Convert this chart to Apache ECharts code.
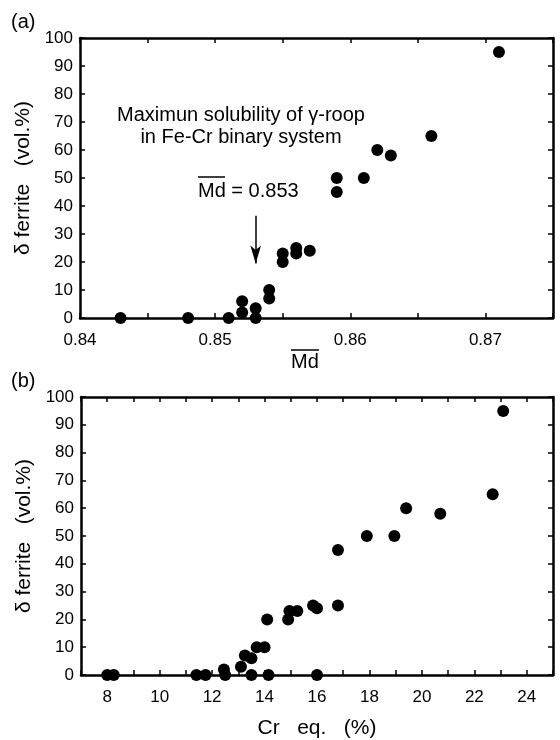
<!DOCTYPE html>
<html><head><meta charset="utf-8">
<script src="https://cdn.jsdelivr.net/npm/echarts@6/dist/echarts.min.js"></script>
<style>html,body{margin:0;padding:0;background:#fff}#c{width:560px;height:740px}</style>
</head><body><div id="c"></div>
<script>
// ---- data ----
const mdValues = [0.843,0.848,0.851,0.852,0.852,0.853,0.853,0.854,0.854,0.855,0.855,0.856,0.856,0.857,0.859,0.859,0.861,0.862,0.863,0.866,0.871];
const ferriteA = [0,0,0,6,2,3.5,0,10,7,23,20,25,23,24,45,50,50,60,58,65,95];
const crEq = [8.0,8.25,11.4,11.75,12.45,12.5,13.1,13.25,13.5,13.5,13.7,14.0,14.1,14.15,14.9,14.95,15.25,15.85,16.0,16.0,16.8,16.8,17.9,18.95,19.4,20.7,22.7,23.1];
const ferriteB = [0,0,0,0,2,0,3,7,6,0,10,10,20,0,20,23,23,25,24,0,25,45,50,50,60,58,65,95];
const mdTickLabels = ['0.84','0.85','0.86','0.87'];
const crTickLabels = ['8','10','12','14','16','18','20','22','24'];
const ferriteTickLabels = ['0','10','20','30','40','50','60','70','80','90','100'];
const mdCritical = 0.853;
const arrowFrom = 36.5, arrowTo = 19.5;

const FONT = 'Liberation Sans, Arial, sans-serif';
const chart = echarts.init(document.getElementById('c'));

function pairs(xs, ys){ return xs.map((x,i)=>[x, ys[i]]); }

function xAxisCfg(grid, min, max, interval, labels, pos, show){
  return {
    type:'value', gridIndex:grid, min:min, max:max, interval:interval, position:pos,
    axisLine:{show:true, onZero:false, lineStyle:{color:'#000', width:2.5}},
    axisTick:{show:true, inside:true, length:5, lineStyle:{color:'#000', width:1.5}},
    splitLine:{show:false},
    axisLabel:{show:show, color:'#000', fontFamily:FONT, fontSize:17, margin:14,
      formatter:function(v){
        const s1 = String(Math.round(v*1000)/1000);
        const s2 = (Math.round(v*100)/100).toFixed(2);
        if (labels.indexOf(s1) >= 0) return s1;
        if (labels.indexOf(s2) >= 0 && Math.abs(v - parseFloat(s2)) < 1e-6) return s2;
        return '';
      }}
  };
}
function yAxisCfg(grid, pos, show){
  return {
    type:'value', gridIndex:grid, min:0, max:100, interval:10, position:pos,
    axisLine:{show:true, onZero:false, lineStyle:{color:'#000', width:2.5}},
    axisTick:{show:true, inside:true, length:5, lineStyle:{color:'#000', width:1.5}},
    splitLine:{show:false},
    axisLabel:{show:show, color:'#000', fontFamily:FONT, fontSize:17, margin:7,
      formatter:function(v){ const s=String(Math.round(v)); return ferriteTickLabels.indexOf(s)>=0?s:''; }},
    name: show ? 'δ ferrite   (vol.%)' : '',
    nameLocation:'middle', nameRotate:90, nameGap:35,
    nameTextStyle:{color:'#000', fontFamily:FONT, fontSize:21}
  };
}

const xA = xAxisCfg(0, 0.84, 0.875, 0.005, mdTickLabels, 'bottom', true);
const xAtop = xAxisCfg(0, 0.84, 0.875, 0.005, mdTickLabels, 'top', false);
const xB = xAxisCfg(1, 7, 25, 1, crTickLabels, 'bottom', true);
xB.name = 'Cr   eq.   (%)';
xB.nameLocation = 'middle';
xB.nameGap = 43;
xB.nameTextStyle = {color:'#000', fontFamily:FONT, fontSize:21};
const xBtop = xAxisCfg(1, 7, 25, 1, crTickLabels, 'top', false);

const option = {
  animation:false,
  backgroundColor:'#fff',
  grid:[
    {left:80, top:38, width:473, height:280},
    {left:81, top:397, width:472, height:280}
  ],
  xAxis:[xA, xAtop, xB, xBtop],
  yAxis:[yAxisCfg(0,'left',true), yAxisCfg(0,'right',false), yAxisCfg(1,'left',true), yAxisCfg(1,'right',false)],
  series:[
    {type:'scatter', xAxisIndex:0, yAxisIndex:0, data:pairs(mdValues, ferriteA),
     symbol:'circle', symbolSize:12, itemStyle:{color:'#000', opacity:1},
     markLine:{silent:true, symbol:['none','arrow'], symbolSize:[8,18], label:{show:false},
       lineStyle:{color:'#000', width:1.5, type:'solid'},
       data:[[{coord:[mdCritical, arrowFrom]},{coord:[mdCritical, arrowTo]}]]}},
    {type:'scatter', xAxisIndex:2, yAxisIndex:2, data:pairs(crEq, ferriteB),
     symbol:'circle', symbolSize:12, itemStyle:{color:'#000', opacity:1}}
  ],
  graphic:[
    {type:'text', left:11, top:12, style:{text:'(a)', font:'20px '+FONT, fill:'#000'}},
    {type:'text', left:11, top:371, style:{text:'(b)', font:'20px '+FONT, fill:'#000'}},
    {type:'text', x:241, y:115, style:{text:'Maximun solubility of γ-roop', font:'20px '+FONT, fill:'#000', textAlign:'center', textVerticalAlign:'middle'}},
    {type:'text', x:241, y:137, style:{text:'in Fe-Cr binary system', font:'20px '+FONT, fill:'#000', textAlign:'center', textVerticalAlign:'middle'}},
    {type:'text', x:198, y:191, style:{text:'Md = 0.853', font:'20px '+FONT, fill:'#000', textAlign:'left', textVerticalAlign:'middle'}},
    {type:'line', shape:{x1:198, y1:177, x2:225, y2:177}, style:{stroke:'#000', lineWidth:1.5}},
    {type:'text', x:305, y:362, style:{text:'Md', font:'20px '+FONT, fill:'#000', textAlign:'center', textVerticalAlign:'middle'}},
    {type:'line', shape:{x1:291, y1:350, x2:319, y2:350}, style:{stroke:'#000', lineWidth:1.5}}
  ]
};
chart.setOption(option);
</script></body></html>
